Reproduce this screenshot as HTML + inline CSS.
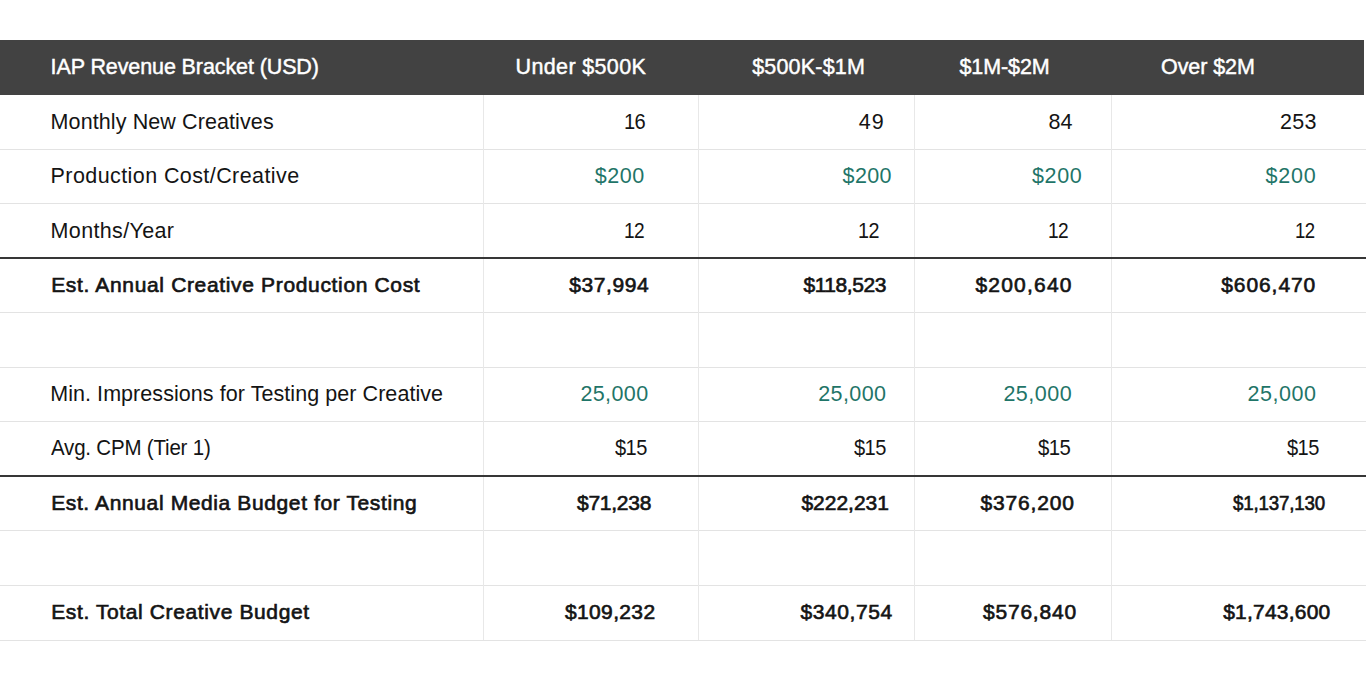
<!DOCTYPE html>
<html><head><meta charset="utf-8"><style>
html,body{margin:0;padding:0;background:#fff;width:1366px;height:681px;overflow:hidden;position:relative;}
body{font-family:"Liberation Sans",sans-serif;}
.hd{position:absolute;left:0;top:40px;width:1364px;height:55px;background:#424242;}
.hl{position:absolute;left:0;width:1366px;height:1px;background:#e3e3e3;}
.tl{position:absolute;left:0;width:1366px;height:2px;background:#363636;}
.vl{position:absolute;width:1px;background:#e8e8e8;}
.t{position:absolute;white-space:nowrap;line-height:30px;height:30px;}
.n{font-size:21.5px;font-weight:400;}
.b{font-size:21px;font-weight:400;-webkit-text-stroke:0.65px #141414;}
.h{font-size:21.5px;font-weight:400;-webkit-text-stroke:0.45px #fff;}
</style></head><body>
<div class="hd"></div>
<div class="hl" style="top:148.60px"></div>
<div class="hl" style="top:203.15px"></div>
<div class="hl" style="top:312.25px"></div>
<div class="hl" style="top:366.80px"></div>
<div class="hl" style="top:421.35px"></div>
<div class="hl" style="top:530.45px"></div>
<div class="hl" style="top:585.00px"></div>
<div class="hl" style="top:639.55px"></div>
<div class="vl" style="left:483.00px;top:95px;height:545px"></div>
<div class="vl" style="left:698.10px;top:95px;height:545px"></div>
<div class="vl" style="left:914.00px;top:95px;height:545px"></div>
<div class="vl" style="left:1111.00px;top:95px;height:545px"></div>
<div class="tl" style="top:257.20px"></div>
<div class="tl" style="top:475.40px"></div>
<div id="c0" class="t h" style="left:50.60px;top:52.28px;letter-spacing:-0.104px;color:#ffffff">IAP Revenue Bracket (USD)</div>
<div id="c1" class="t h" style="left:515.60px;top:52.28px;letter-spacing:0.350px;color:#ffffff">Under &#36;500K</div>
<div id="c2" class="t h" style="left:752.20px;top:52.28px;letter-spacing:0.187px;color:#ffffff">&#36;500K-&#36;1M</div>
<div id="c3" class="t h" style="left:959.40px;top:52.28px;letter-spacing:-0.083px;color:#ffffff">&#36;1M-&#36;2M</div>
<div id="c4" class="t h" style="left:1161.00px;top:52.28px;letter-spacing:-0.071px;color:#ffffff">Over &#36;2M</div>
<div id="c5" class="t n" style="left:50.60px;top:106.82px;letter-spacing:0.100px;color:#141414">Monthly New Creatives</div>
<div id="c6" class="t n" style="left:624.20px;top:106.82px;letter-spacing:-0.600px;transform:scaleX(0.9346);transform-origin:0 0;color:#141414">16</div>
<div id="c7" class="t n" style="left:858.80px;top:106.82px;letter-spacing:1.000px;color:#141414">49</div>
<div id="c8" class="t n" style="left:1048.60px;top:106.82px;letter-spacing:0.000px;color:#141414">84</div>
<div id="c9" class="t n" style="left:1280.00px;top:106.82px;letter-spacing:0.250px;color:#141414">253</div>
<div id="c10" class="t n" style="left:50.60px;top:161.38px;letter-spacing:0.413px;color:#141414">Production Cost/Creative</div>
<div id="c11" class="t n" style="left:594.80px;top:161.38px;letter-spacing:0.500px;color:#1f7568">&#36;200</div>
<div id="c12" class="t n" style="left:842.60px;top:161.38px;letter-spacing:0.333px;color:#1f7568">&#36;200</div>
<div id="c13" class="t n" style="left:1032.00px;top:161.38px;letter-spacing:0.667px;color:#1f7568">&#36;200</div>
<div id="c14" class="t n" style="left:1265.40px;top:161.38px;letter-spacing:0.833px;color:#1f7568">&#36;200</div>
<div id="c15" class="t n" style="left:50.60px;top:215.92px;letter-spacing:0.350px;color:#141414">Months/Year</div>
<div id="c16" class="t n" style="left:624.20px;top:215.92px;letter-spacing:-0.600px;transform:scaleX(0.8893);transform-origin:0 0;color:#141414">12</div>
<div id="c17" class="t n" style="left:857.80px;top:215.92px;letter-spacing:-0.600px;transform:scaleX(0.9176);transform-origin:0 0;color:#141414">12</div>
<div id="c18" class="t n" style="left:1047.60px;top:215.92px;letter-spacing:-0.600px;transform:scaleX(0.8889);transform-origin:0 0;color:#141414">12</div>
<div id="c19" class="t n" style="left:1295.00px;top:215.92px;letter-spacing:-0.600px;transform:scaleX(0.8655);transform-origin:0 0;color:#141414">12</div>
<div id="c20" class="t b" style="left:51.20px;top:270.48px;letter-spacing:0.657px;color:#141414">Est. Annual Creative Production Cost</div>
<div id="c21" class="t b" style="left:569.20px;top:270.48px;letter-spacing:0.583px;color:#141414">&#36;37,994</div>
<div id="c22" class="t b" style="left:803.40px;top:270.48px;letter-spacing:-0.429px;color:#141414">&#36;118,523</div>
<div id="c23" class="t b" style="left:975.40px;top:270.48px;letter-spacing:1.214px;color:#141414">&#36;200,640</div>
<div id="c24" class="t b" style="left:1221.20px;top:270.48px;letter-spacing:0.929px;color:#141414">&#36;606,470</div>
<div id="c25" class="t n" style="left:50.20px;top:378.57px;letter-spacing:0.063px;color:#141414">Min. Impressions for Testing per Creative</div>
<div id="c26" class="t n" style="left:580.40px;top:378.57px;letter-spacing:0.400px;color:#1f7568">25,000</div>
<div id="c27" class="t n" style="left:818.20px;top:378.57px;letter-spacing:0.400px;color:#1f7568">25,000</div>
<div id="c28" class="t n" style="left:1003.40px;top:378.57px;letter-spacing:0.500px;color:#1f7568">25,000</div>
<div id="c29" class="t n" style="left:1247.60px;top:378.57px;letter-spacing:0.500px;color:#1f7568">25,000</div>
<div id="c30" class="t n" style="left:51.20px;top:433.12px;letter-spacing:-0.200px;transform:scaleX(0.9530);transform-origin:0 0;color:#141414">Avg. CPM (Tier 1)</div>
<div id="c31" class="t n" style="left:615.20px;top:433.12px;letter-spacing:-0.600px;transform:scaleX(0.9320);transform-origin:0 0;color:#141414">&#36;15</div>
<div id="c32" class="t n" style="left:853.80px;top:433.12px;letter-spacing:-0.600px;transform:scaleX(0.9323);transform-origin:0 0;color:#141414">&#36;15</div>
<div id="c33" class="t n" style="left:1038.20px;top:433.12px;letter-spacing:-0.600px;transform:scaleX(0.9471);transform-origin:0 0;color:#141414">&#36;15</div>
<div id="c34" class="t n" style="left:1287.20px;top:433.12px;letter-spacing:-0.600px;transform:scaleX(0.9325);transform-origin:0 0;color:#141414">&#36;15</div>
<div id="c35" class="t b" style="left:51.20px;top:487.67px;letter-spacing:0.614px;color:#141414">Est. Annual Media Budget for Testing</div>
<div id="c36" class="t b" style="left:577.00px;top:487.67px;letter-spacing:-0.250px;color:#141414">&#36;71,238</div>
<div id="c37" class="t b" style="left:801.40px;top:487.67px;letter-spacing:-0.000px;color:#141414">&#36;222,231</div>
<div id="c38" class="t b" style="left:980.40px;top:487.67px;letter-spacing:0.857px;color:#141414">&#36;376,200</div>
<div id="c39" class="t b" style="left:1232.60px;top:487.67px;letter-spacing:-0.200px;transform:scaleX(0.8915);transform-origin:0 0;color:#141414">&#36;1,137,130</div>
<div id="c40" class="t b" style="left:51.20px;top:596.77px;letter-spacing:0.620px;color:#141414">Est. Total Creative Budget</div>
<div id="c41" class="t b" style="left:565.00px;top:596.77px;letter-spacing:0.357px;color:#141414">&#36;109,232</div>
<div id="c42" class="t b" style="left:800.60px;top:596.77px;letter-spacing:0.571px;color:#141414">&#36;340,754</div>
<div id="c43" class="t b" style="left:983.00px;top:596.77px;letter-spacing:0.786px;color:#141414">&#36;576,840</div>
<div id="c44" class="t b" style="left:1223.20px;top:596.77px;letter-spacing:0.222px;color:#141414">&#36;1,743,600</div>
</body></html>
